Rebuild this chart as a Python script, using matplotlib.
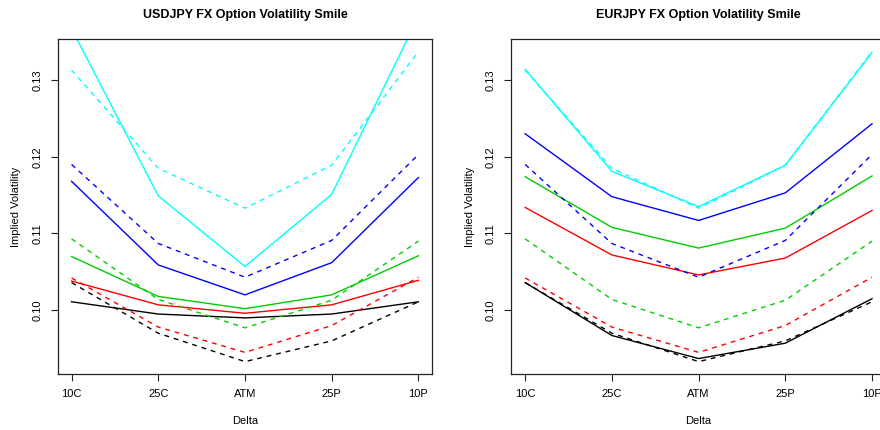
import numpy as np
import matplotlib
matplotlib.use("Agg")
import matplotlib.pyplot as plt

plt.rcParams['font.family'] = ['Liberation Sans', 'DejaVu Sans']

deltas = ['10C', '25C', 'ATM', '25P', '10P']
colours = ['black', 'red', '#00CD00', 'blue', 'cyan']

# market smiles (dashed), one per maturity, shared by both panels
mkt_black = [0.1036, 0.0970, 0.0933, 0.0960, 0.1011]
mkt_red = [0.1042, 0.0978, 0.0945, 0.0980, 0.1043]
mkt_green = [0.1093, 0.1014, 0.0977, 0.1013, 0.1090]
mkt_blue = [0.1190, 0.1087, 0.1043, 0.1091, 0.1203]
mkt_cyan = [0.1313, 0.1185, 0.1133, 0.1189, 0.1337]

# USDJPY smiles (solid)
usd_black = [0.1011, 0.0995, 0.0990, 0.0995, 0.1011]
usd_red = [0.1038, 0.1007, 0.0996, 0.1007, 0.1039]
usd_green = [0.1070, 0.1018, 0.1002, 0.1020, 0.1071]
usd_blue = [0.1168, 0.1059, 0.1020, 0.1062, 0.1173]
usd_cyan = [0.1367, 0.1149, 0.1057, 0.1151, 0.1383]

# EURJPY smiles (solid)
eur_black = [0.1036, 0.0967, 0.0937, 0.0957, 0.1015]
eur_red = [0.1134, 0.1072, 0.1046, 0.1068, 0.1130]
eur_green = [0.1174, 0.1108, 0.1081, 0.1107, 0.1175]
eur_blue = [0.1230, 0.1148, 0.1117, 0.1153, 0.1243]
eur_cyan = [0.1314, 0.1181, 0.1135, 0.1189, 0.1336]

mkt = [mkt_black, mkt_red, mkt_green, mkt_blue, mkt_cyan]
usd = [usd_black, usd_red, usd_green, usd_blue, usd_cyan]
eur = [eur_black, eur_red, eur_green, eur_blue, eur_cyan]

x = np.arange(1, 6)
lo, hi = min(map(min, mkt)), max(map(max, mkt))
pad = 0.04 * (hi - lo)

fig = plt.figure(figsize=(8.8, 4.3), dpi=100)
ax1 = fig.add_axes([57.7 / 880, 1 - 374 / 430, 374.6 / 880, 334.7 / 430])
ax2 = fig.add_axes([511.3 / 880, 1 - 374 / 430, 374.6 / 880, 334.7 / 430])


def smile_panel(ax, fitted, title):
    for col, m, f in zip(colours, mkt, fitted):
        ax.plot(x, m, color=col, lw=1.0, ls=(0, (3.5, 3.5)))
        ax.plot(x, f, color=col, lw=1.0)
    ax.set_xlim(0.84, 5.16)
    ax.set_ylim(lo - pad, hi + pad)
    ax.set_xticks(x)
    ax.set_xticklabels(deltas, fontsize=8)
    ax.set_yticks([0.10, 0.11, 0.12, 0.13])
    ax.set_yticklabels(['0.10', '0.11', '0.12', '0.13'], fontsize=8,
                       rotation=90, va='center')
    ax.tick_params(length=5, width=0.8, color='#222222', pad=6)
    for s in ax.spines.values():
        s.set_color('#222222')
        s.set_linewidth(0.9)
    ax.set_xlabel('Delta', fontsize=8, labelpad=12)
    ax.set_ylabel('Implied Volatility', fontsize=8, labelpad=8)
    ax.set_title(title, fontsize=9, fontweight='bold', pad=15)


smile_panel(ax1, usd, 'USDJPY FX Option Volatility Smile')
smile_panel(ax2, eur, 'EURJPY FX Option Volatility Smile')

fig.savefig('out.png', dpi=100)
